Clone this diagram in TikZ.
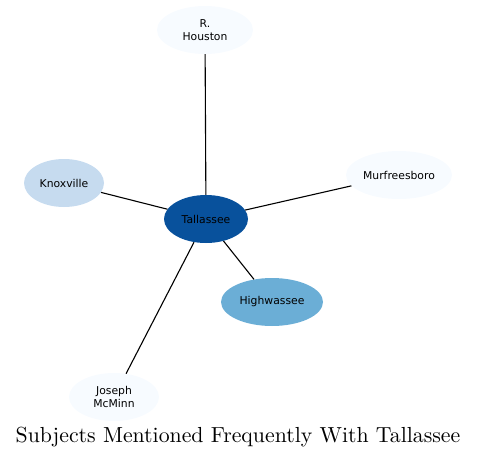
\documentclass[tikz,border=0pt]{standalone}
\usepackage{fontspec}
\newfontfamily\dejavu{DejaVu Sans}
\newfontfamily\lmten{lmroman10-regular.otf}
\usetikzlibrary{shapes.geometric}
\definecolor{c0}{HTML}{F7FBFF}
\definecolor{c1}{HTML}{C6DBEF}
\definecolor{c2}{HTML}{6BAED6}
\definecolor{c3}{HTML}{08519C}
\tikzset{
  ent/.style={ellipse, draw=none, inner sep=0pt, minimum height=48pt, align=center,
    font=\dejavu\fontsize{10.8}{12.5}\selectfont, text=black},
  link/.style={draw=black, line width=1.1pt}
}
\begin{document}
\begin{tikzpicture}[x=1pt,y=-1pt]
\useasboundingbox (0,0) rectangle (477,458);
\node[ent, fill=c0, minimum width=96pt] (hou) at (205,30) {R.\\Houston};
\node[ent, fill=c1, minimum width=80pt] (kno) at (64,183) {Knoxville};
\node[ent, fill=c0, minimum width=106pt] (mur) at (399,175) {Murfreesboro};
\node[ent, fill=c3, minimum width=84pt] (tal) at (206,219) {Tallassee};
\node[ent, fill=c2, minimum width=102pt] (hig) at (272,302) {Highwassee};
\node[ent, fill=c0, minimum width=90pt] (mcm) at (114,397) {Joseph\\McMinn};
\draw[link] (tal) -- (hou);
\draw[link] (tal) -- (kno);
\draw[link] (tal) -- (mur);
\draw[link] (tal) -- (hig);
\draw[link] (tal) -- (mcm);
\node[font=\lmten\fontsize{21.8}{25}\selectfont] (title) at (238,437) {Subjects Mentioned Frequently With Tallassee};
\end{tikzpicture}
\end{document}
